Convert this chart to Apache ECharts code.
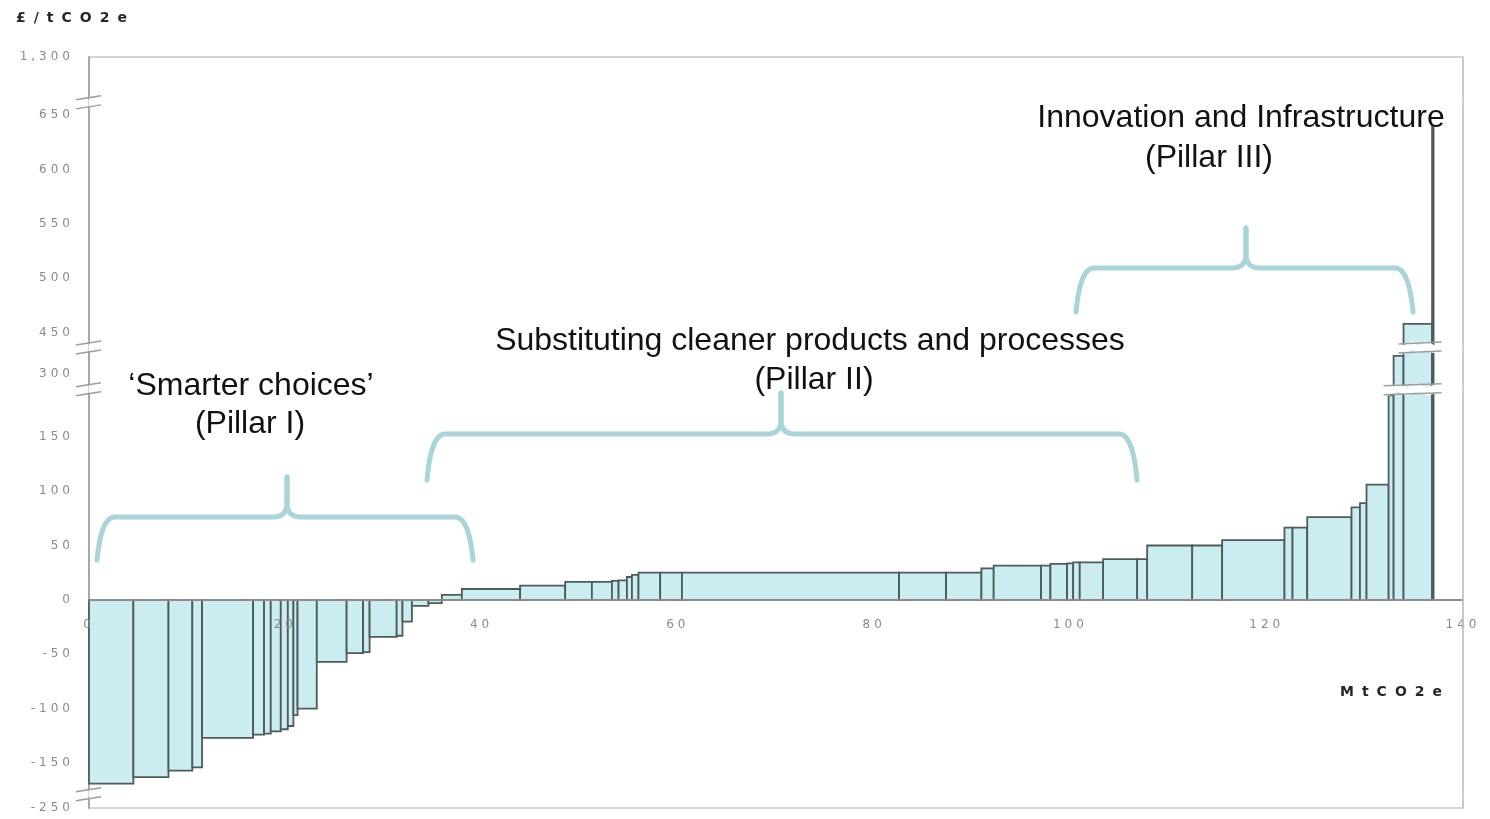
<!DOCTYPE html>
<html>
<head>
<meta charset="utf-8">
<script src="https://cdn.jsdelivr.net/npm/echarts@6/dist/echarts.min.js"></script>
<style>
html,body{margin:0;padding:0;background:#ffffff;}
#chart{width:1490px;height:819px;}
</style>
</head>
<body>
<div id="chart"></div>
<script>
// Abatement of each measure (MtCO2e, bar widths) in order along the curve
const abatement = [
  4.52, 3.58, 2.43, 0.99, 5.20, 1.12, 0.68, 1.02, 0.72, 0.57,
  0.42, 1.96, 3.04, 1.68, 0.66, 2.76, 0.59, 0.96, 1.69, 1.36,
  2.04, 5.94, 4.59, 2.72, 2.04, 0.68, 0.85, 0.51, 0.67, 2.21,
  2.22, 22.12, 4.79, 3.60, 1.25, 4.83, 0.95, 1.70, 0.62, 0.67,
  2.38, 3.47, 1.02, 4.59, 3.05, 6.35, 0.82, 1.50, 4.51, 0.86,
  0.67, 2.25, 0.51, 1.01, 2.91, 0.15
];
// Cost of each measure (£/tCO2e, bar heights)
const costs = [
  -169, -163, -157, -154, -127, -124, -123, -121, -119, -116,
  -106, -100, -57, -49, -48, -34, -33, -20, -5.5, -3,
  4.5, 10, 13, 16.5, 16.5, 17.5, 18, 21, 23, 25,
  25, 25, 25, 25, 29, 31.5, 31.5, 33, 33.5, 34.5,
  34.5, 37.5, 37.5, 50, 50, 55, 66.5, 66.5, 76, 85,
  89, 106, 188, 317, 458, 640
];
// Axis ticks
const xTicks = [0, 20, 40, 60, 80, 100, 120, 140];
const yTickLabels = [-250, -150, -100, -50, 0, 50, 100, 150, 300, 450, 500, 550, 600, 650, 1300];
// Broken y-axis ranges [start, end]
const yBreakRanges = [[-241, -175], [190, 290], [321, 440], [658, 1262]];

// Pillar annotations
const pillarLabels = [
  ["\u2018Smarter choices\u2019", "(Pillar I)"],
  ["Substituting cleaner products and processes", "(Pillar II)"],
  ["Innovation and Infrastructure", "(Pillar III)"]
];
const xAxisName = "MtCO2e";
const yAxisName = "\u00a3/tCO2e";

// ---- letter spacing for the small axis texts (drawn wide in the original) ----
(function () {
  const P = CanvasRenderingContext2D.prototype;
  const orig = P.fillText;
  P.fillText = function (t, x, y, m) {
    const f = this.font || '';
    if (f.indexOf('DejaVu Sans') >= 0 && 'letterSpacing' in this) {
      const old = this.letterSpacing;
      this.letterSpacing = f.indexOf('bold') >= 0 ? '8px' : '4px';
      const r = m === undefined ? orig.call(this, t, x, y) : orig.call(this, t, x, y, m);
      this.letterSpacing = old;
      return r;
    }
    return m === undefined ? orig.call(this, t, x, y) : orig.call(this, t, x, y, m);
  };
})();

// ---- build series data (cumulative x ranges) ----
let cum = 0;
const barData = abatement.map(function (w, i) {
  const s = cum;
  cum += w;
  return [s, cum, costs[i]];
});

const chart = echarts.init(document.getElementById('chart'), null, {renderer: 'canvas'});

const FILL = '#cbedf1';
const STROKE = '#4f5b5b';
const BRACE = '#a9d4d9';
const TXT = '#111111';

function quad(pts, p0, c, p1, n) {
  for (let i = 1; i <= n; i++) {
    const t = i / n, u = 1 - t;
    pts.push([u * u * p0[0] + 2 * u * t * c[0] + t * t * p1[0], u * u * p0[1] + 2 * u * t * c[1] + t * t * p1[1]]);
  }
}
function bracePoints(xL, xR, xC, yEnd, yBar, yTip, xInL, xInR) {
  const r = 14;
  const pts = [[xL, yEnd]];
  quad(pts, [xL, yEnd], [xInL, yBar], [xInL + r, yBar], 12);
  pts.push([xC - r, yBar]);
  quad(pts, [xC - r, yBar], [xC, yBar], [xC, yBar - 14], 8);
  pts.push([xC, yTip]);
  const right = [[xC, yTip], [xC, yBar - 14]];
  quad(right, [xC, yBar - 14], [xC, yBar], [xC + r, yBar], 8);
  right.push([xInR - r, yBar]);
  quad(right, [xInR - r, yBar], [xInR, yBar], [xR, yEnd], 12);
  return {left: pts, right: right};
}

const textStyleBase = {
  fontFamily: 'Liberation Sans, Arial, sans-serif',
  fontSize: 32,
  fill: TXT,
  textAlign: 'center',
  textVerticalAlign: 'middle'
};

const braceDefs = [
  [97, 473, 287, 560, 517, 477, 101, 469],
  [427, 1137, 781, 480, 434, 393, 431, 1133],
  [1076, 1413, 1246, 312, 268, 228, 1080, 1409]
];
const graphics = [];
braceDefs.forEach(function (d) {
  const b = bracePoints.apply(null, d);
  [b.left, b.right].forEach(function (p) {
    graphics.push({type: 'polyline', zlevel: 1, z: 50, shape: {points: p},
      style: {fill: null, stroke: BRACE, lineWidth: 5, lineCap: 'round', lineJoin: 'round'}});
  });
});
graphics.push(
  {type: 'text', zlevel: 1, z: 60, x: 251, y: 386, style: Object.assign({}, textStyleBase, {text: pillarLabels[0][0]})},
  {type: 'text', zlevel: 1, z: 60, x: 250, y: 424, style: Object.assign({}, textStyleBase, {text: pillarLabels[0][1]})},
  {type: 'text', zlevel: 1, z: 60, x: 810, y: 341, style: Object.assign({}, textStyleBase, {text: pillarLabels[1][0]})},
  {type: 'text', zlevel: 1, z: 60, x: 814, y: 380, style: Object.assign({}, textStyleBase, {text: pillarLabels[1][1]})},
  {type: 'text', zlevel: 1, z: 60, x: 1241, y: 118, style: Object.assign({}, textStyleBase, {text: pillarLabels[2][0]})},
  {type: 'text', zlevel: 1, z: 60, x: 1209, y: 158, style: Object.assign({}, textStyleBase, {text: pillarLabels[2][1]})},
  {type: 'text', zlevel: 1, z: 60, x: 16, y: 18, style: {text: yAxisName, fontFamily: 'DejaVu Sans', fontWeight: 'bold', fontSize: 14, fill: '#262626', textAlign: 'left', textVerticalAlign: 'middle'}},
  {type: 'text', zlevel: 1, z: 60, x: 1340, y: 692, style: {text: xAxisName, fontFamily: 'DejaVu Sans', fontWeight: 'bold', fontSize: 14, fill: '#262626', textAlign: 'left', textVerticalAlign: 'middle'}}
);

const option = {
  animation: false,
  backgroundColor: '#ffffff',
  grid: {
    left: 89, right: 27, top: 57, bottom: 11,
    outerBoundsMode: 'none',
    show: true, borderColor: '#c6c6c6', borderWidth: 1.5, backgroundColor: 'transparent'
  },
  xAxis: {
    type: 'value', min: xTicks[0], max: xTicks[xTicks.length - 1], interval: xTicks[1] - xTicks[0],
    z: 5, position: 'bottom',
    axisLine: {show: true, onZero: false, lineStyle: {color: '#8c8c8c', width: 2}},
    axisTick: {show: false},
    splitLine: {show: false},
    axisLabel: {color: '#8a8a8a', fontFamily: 'DejaVu Sans', fontSize: 12, margin: 19}
  },
  yAxis: {
    type: 'value', min: -250, max: 1300, interval: 50,
    breaks: yBreakRanges.map(function (b) { return {start: b[0], end: b[1], gap: 7.4}; }),
    breakArea: {
      show: true,
      itemStyle: {color: '#ffffff', borderColor: '#ffffff', borderWidth: 1, opacity: 1},
      zigzagAmplitude: 2, zigzagMinSpan: 6, zigzagMaxSpan: 12, expandOnClick: false
    },
    axisLine: {show: true, onZero: false, lineStyle: {color: '#a8a8a8', width: 2}},
    axisTick: {show: false},
    splitLine: {show: false},
    axisLabel: {
      color: '#8a8a8a', fontFamily: 'DejaVu Sans', fontSize: 12, margin: 15,
      customValues: yTickLabels,
      formatter: function (v) { return Math.round(v).toLocaleString('en-US'); }
    }
  },
  series: [{
    type: 'custom',
    coordinateSystem: 'cartesian2d',
    z: 2,
    encode: {x: [0, 1], y: 2},
    renderItem: function (params, api) {
      const x0 = api.value(0), x1 = api.value(1), v = api.value(2);
      const a = api.coord([x0, 0]);
      const b = api.coord([x1, v]);
      return {
        type: 'rect',
        shape: {x: a[0], y: Math.min(a[1], b[1]), width: b[0] - a[0], height: Math.abs(b[1] - a[1])},
        style: {fill: FILL, stroke: STROKE, lineWidth: 1.8}
      };
    },
    data: barData
  }],
  graphic: graphics
};

chart.setOption(option);

function yPx(v) { return chart.convertToPixel({yAxisIndex: 0}, v); }
function xPx(v) { return chart.convertToPixel({xAxisIndex: 0}, v); }

// put the x axis on the zero line (positions from the y scale)
for (let k = 0; k < 2; k++) {
  chart.setOption({xAxis: {offset: yPx(0) - yPx(-250)}});
}

// break marks on the y axis and across the bars that pass through a break
const marks = [];
const axisX = xPx(0);
const markStyle = {stroke: '#9c9c9c', lineWidth: 1.5};
yBreakRanges.forEach(function (b) {
  const yLo = yPx(b[0]);
  const yHi = yPx(b[1]);
  [yLo + 0.5, yHi - 0.5].forEach(function (yy) {
    marks.push({type: 'line', zlevel: 1, z: 40,
      shape: {x1: axisX - 13, y1: yy + 2, x2: axisX + 12, y2: yy - 2}, style: markStyle});
  });
  let xs = null, xe = null;
  barData.forEach(function (d) {
    if (d[2] > b[0] - 3 && b[0] > 0) {
      if (xs === null) xs = d[0];
      xe = d[1];
    }
  });
  if (xs !== null) {
    const px0 = xPx(xs) - 5, px1 = xPx(xe) + 8;
    [yLo + 0.5, yHi - 0.5].forEach(function (yy) {
      marks.push({type: 'line', zlevel: 1, z: 40,
        shape: {x1: px0, y1: yy + 1, x2: px1, y2: yy - 1}, style: markStyle});
    });
  }
});
// right frame edge kept whole across the breaks
const xR = xPx(xTicks[xTicks.length - 1]);
marks.push({type: 'line', zlevel: 1, z: 30,
  shape: {x1: xR, y1: yPx(1300), x2: xR, y2: yPx(-250)}, style: {stroke: '#c6c6c6', lineWidth: 1.5}});

chart.setOption({graphic: graphics.concat(marks)});
</script>
</body>
</html>
